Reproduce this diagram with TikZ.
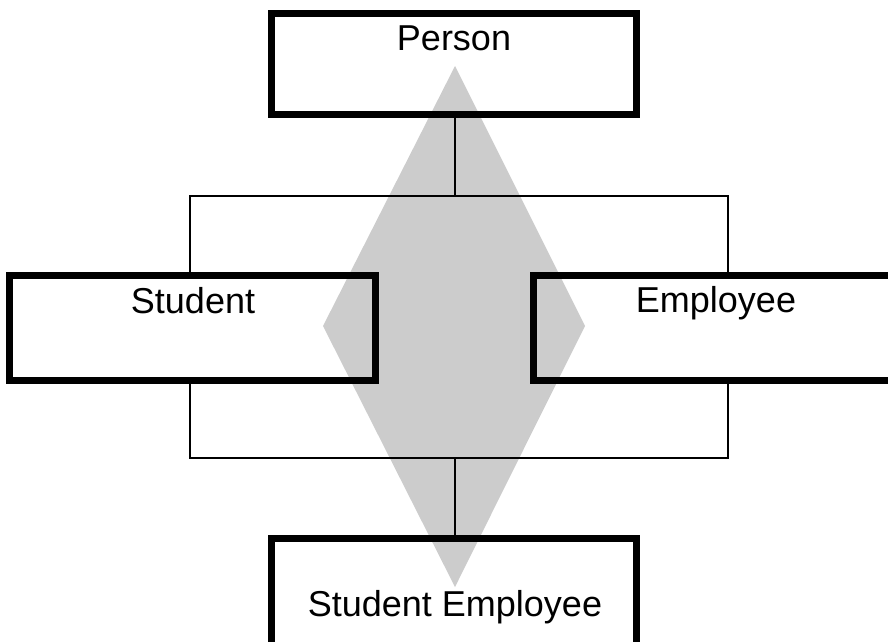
\documentclass[tikz,border=0pt]{standalone}
\usepackage{fontspec}
\setmainfont{Liberation Sans}
\begin{document}
\begin{tikzpicture}[x=1pt,y=-1pt,
  entity/.style={draw=black,line width=7pt,rectangle,inner sep=0pt,outer sep=0pt,anchor=north west},
  etext/.style={font=\fontsize{36}{40}\selectfont,anchor=base,inner sep=0pt},
  link/.style={draw=black,line width=1.8pt},
  overlap/.style={fill=black!20,draw=none}]
\useasboundingbox (0,0) rectangle (888,641);
\clip (0,0) rectangle (888,641);
% overlap diamond
\fill[overlap] (455,66) -- (585,326) -- (455,587) -- (323,326) -- cycle;
% entity boxes
\node[entity,minimum width=365pt,minimum height=101pt] (person) at (271,13) {};
\node[entity,minimum width=366pt,minimum height=105pt] (student) at (9.5,275) {};
\node[entity,minimum width=500pt,minimum height=105pt] (employee) at (533,275) {};
\node[entity,minimum width=365pt,minimum height=150pt] (stuemp) at (271,538) {};
% texts
\node[etext] (personT) at (454,50) {Person};
\node[etext] (studentT) at (193,313) {Student};
\node[etext] (employeeT) at (716,312) {Employee};
\node[etext] (stuempT) at (455,616) {Student Employee};
% connector coordinates
\coordinate (topmid) at (455,196);
\coordinate (topL) at (190,196);
\coordinate (topR) at (728,196);
\coordinate (botmid) at (455,458);
\coordinate (botL) at (190,458);
\coordinate (botR) at (728,458);
\draw[link] (person.south -| topmid) -- (topmid);
\draw[link] (student.north -| topL) -- (topL) -- (topR) -- (employee.north -| topR);
\draw[link] (student.south -| botL) -- (botL) -- (botR) -- (employee.south -| botR);
\draw[link] (botmid) -- (stuemp.north -| botmid);
\end{tikzpicture}
\end{document}
